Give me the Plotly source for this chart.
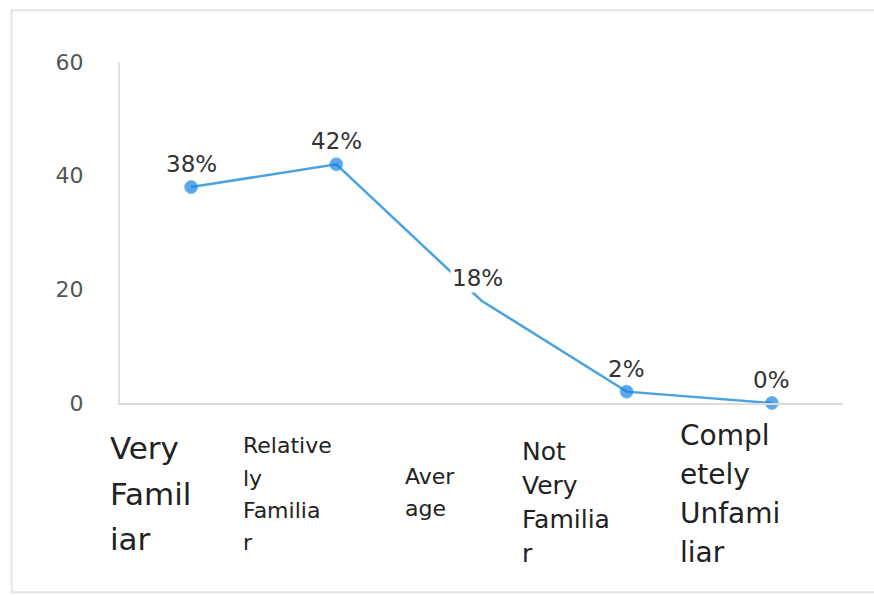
import plotly.graph_objects as go

# Survey responses: familiarity level and share of respondents (%)
categories = ["Very Familiar", "Relatively Familiar", "Average",
              "Not Very Familiar", "Completely Unfamiliar"]
shares = [38, 42, 18, 2, 0]
value_labels = ["38%", "42%", "18%", "2%", "0%"]

# Category captions as they wrap under the axis
caption_lines = [
    ["Very", "Famil", "iar"],
    ["Relative", "ly", "Familia", "r"],
    ["Aver", "age"],
    ["Not", "Very", "Familia", "r"],
    ["Compl", "etely", "Unfami", "liar"],
]
caption_sizes = [31, 22, 22, 25, 28]
caption_top = [448, 446, 476, 451, 435]
caption_step = [45.5, 32, 32, 34.3, 39.3]
caption_xshift = [-83, -95, -79, -107, -94]

y_ticks = [0, 20, 40, 60]

FONT = "DejaVu Sans"
x_idx = list(range(len(categories)))

fig = go.Figure()
fig.add_trace(go.Scatter(
    x=x_idx, y=shares, mode="lines+markers",
    line=dict(color="#4aa3df", width=2.5),
    marker=dict(color="#1583e3", size=[13, 13, 0, 13, 13]),
    cliponaxis=False, hoverinfo="skip", showlegend=False,
))

annotations = []
for i, (v, t) in enumerate(zip(shares, value_labels)):
    annotations.append(dict(
        x=i, y=v, xref="x", yref="y", text=t, showarrow=False,
        yshift=23, xshift=-4 if i == 2 else 0,
        font=dict(family=FONT, size=23, color="#333333"),
        bgcolor="white" if i == 2 else None,
    ))

# Wrapped category captions (pixel positions derived from plot height)
plot_top, plot_h = 62, 341
for i, lines in enumerate(caption_lines):
    for j, ln in enumerate(lines):
        py = caption_top[i] + j * caption_step[i]
        annotations.append(dict(
            x=i, xref="x", y=(plot_top + plot_h - py) / plot_h, yref="paper",
            text=ln, showarrow=False, xanchor="left", yanchor="middle",
            xshift=caption_xshift[i],
            font=dict(family=FONT, size=caption_sizes[i], color="#222222"),
        ))

fig.update_layout(
    width=874, height=595,
    margin=dict(l=120, r=31, t=62, b=192),
    paper_bgcolor="white", plot_bgcolor="white",
    annotations=annotations,
    shapes=[dict(
        type="rect", xref="paper", yref="paper",
        x0=-0.150, x1=1.06, y0=-0.555, y1=1.152,
        line=dict(color="#e4e4e4", width=2), fillcolor="rgba(0,0,0,0)",
        layer="below",
    )],
    xaxis=dict(
        range=[-0.49, 4.49], showticklabels=False, showgrid=False,
        zeroline=False, showline=True, linecolor="#dcdcdc", linewidth=2,
        ticks="", fixedrange=True,
    ),
    yaxis=dict(
        range=[0, 60], tickvals=y_ticks, showgrid=False, zeroline=False,
        showline=True, linecolor="#e0e0e0", linewidth=2, ticks="",
        ticklabelstandoff=30,
        tickfont=dict(family=FONT, size=22, color="#555555"),
    ),
)

fig.write_html("out.html")
